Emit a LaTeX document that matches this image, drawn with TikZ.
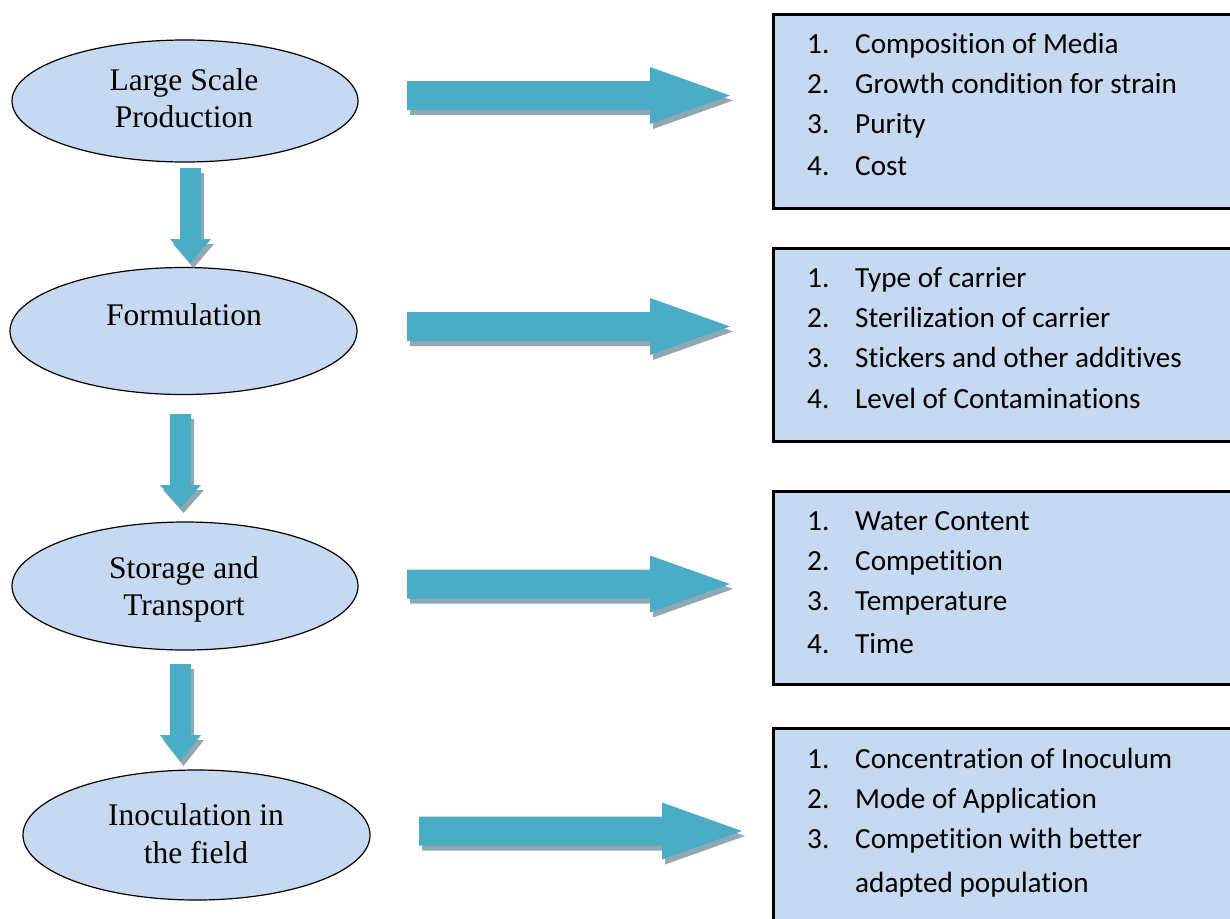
\documentclass[tikz,border=0pt]{standalone}
\usepackage{fontspec}
\setmainfont{Liberation Serif}
\newfontfamily\boxfont[Ligatures=NoCommon]{Carlito}
\usetikzlibrary{shapes.geometric}
\definecolor{fillblue}{RGB}{198,217,241}
\definecolor{arrowblue}{RGB}{75,172,198}
\definecolor{shadowgray}{RGB}{146,168,176}
\tikzset{
  stage/.style={ellipse, draw=black, line width=1.2pt, fill=fillblue, inner sep=0pt},
  stagetext/.style={font=\fontsize{31.5}{36}\selectfont, anchor=base, inner sep=0pt},
  factorbox/.style={draw=black, line width=3pt, fill=fillblue, anchor=north west, inner sep=0pt},
  itemtext/.style={font=\boxfont\fontsize{29.2}{35}\selectfont, anchor=base west, inner sep=0pt},
  blockarrow/.style={fill=arrowblue},
  blockshadow/.style={fill=shadowgray},
}
% horizontal block arrow: x start, x head, x tip, y centre
\newcommand{\harrowshape}[4]{({#1},{#4-14.5}) -- ({#2},{#4-14.5}) -- ({#2},{#4-28.5}) -- ({#3},{#4}) -- ({#2},{#4+28.5}) -- ({#2},{#4+14.5}) -- ({#1},{#4+14.5}) -- cycle}
\newcommand{\harrow}[4]{%
  \fill[blockshadow, shift={(3,5)}] \harrowshape{#1}{#2}{#3}{#4};
  \fill[blockarrow] \harrowshape{#1}{#2}{#3}{#4};}
% vertical block arrow: x centre, y start, y head, y tip
\newcommand{\varrowshape}[4]{({#1-10.5},{#2}) -- ({#1+10.5},{#2}) -- ({#1+10.5},{#3}) -- ({#1+20.5},{#3}) -- ({#1},{#4}) -- ({#1-20.5},{#3}) -- ({#1-10.5},{#3}) -- cycle}
\newcommand{\varrow}[4]{%
  \fill[blockshadow, shift={(3,5)}] \varrowshape{#1}{#2}{#3}{#4};
  \fill[blockarrow] \varrowshape{#1}{#2}{#3}{#4};}
\begin{document}
\begin{tikzpicture}[x=1pt, y=-1pt]
\useasboundingbox (0,0) rectangle (1230,918);

% stages
\node[stage, minimum width=346pt, minimum height=122pt] (e1) at (185,101) {};
\node[stagetext] (e1a) at (184,90) {Large Scale};
\node[stagetext] (e1b) at (184,127) {Production};

\node[stage, minimum width=347pt, minimum height=127pt] (e2) at (183.5,331) {};
\node[stagetext] (e2a) at (184,325) {Formulation};

\node[stage, minimum width=346pt, minimum height=128pt] (e3) at (185,586) {};
\node[stagetext] (e3a) at (184,578) {Storage and};
\node[stagetext] (e3b) at (184,615) {Transport};

\node[stage, minimum width=347pt, minimum height=130pt] (e4) at (196.5,835) {};
\node[stagetext] (e4a) at (196,825) {Inoculation in};
\node[stagetext] (e4b) at (196,863) {the field};

% vertical arrows
\varrow{190.5}{168}{239}{263}
\varrow{180.5}{414}{485}{508}
\varrow{180.5}{664}{735}{761}

% horizontal arrows
\harrow{407}{650}{730}{95.5}
\harrow{407}{650}{730}{326.5}
\harrow{407}{650}{730}{584}
\harrow{419}{662}{742}{831}

% factor boxes
\node[factorbox, minimum width=470pt, minimum height=194pt] (b1) at (772,13) {};
\node[itemtext] (b1n1) at (807,53) {1.};  \node[itemtext] (b1t1) at (855,53) {Composition of Media};
\node[itemtext] (b1n2) at (807,93) {2.};  \node[itemtext] (b1t2) at (855,93) {Growth condition for strain};
\node[itemtext] (b1n3) at (807,133) {3.}; \node[itemtext] (b1t3) at (855,133) {Purity};
\node[itemtext] (b1n4) at (807,175) {4.}; \node[itemtext] (b1t4) at (855,175) {Cost};

\node[factorbox, minimum width=470pt, minimum height=193pt] (b2) at (772,247) {};
\node[itemtext] (b2n1) at (807,287) {1.}; \node[itemtext] (b2t1) at (855,287) {Type of carrier};
\node[itemtext] (b2n2) at (807,327) {2.}; \node[itemtext] (b2t2) at (855,327) {Sterilization of carrier};
\node[itemtext] (b2n3) at (807,367) {3.}; \node[itemtext] (b2t3) at (855,367) {Stickers and other additives};
\node[itemtext] (b2n4) at (807,408) {4.}; \node[itemtext] (b2t4) at (855,408) {Level of Contaminations};

\node[factorbox, minimum width=470pt, minimum height=193pt] (b3) at (772,490) {};
\node[itemtext] (b3n1) at (807,530) {1.}; \node[itemtext] (b3t1) at (855,530) {Water Content};
\node[itemtext] (b3n2) at (807,570) {2.}; \node[itemtext] (b3t2) at (855,570) {Competition};
\node[itemtext] (b3n3) at (807,610) {3.}; \node[itemtext] (b3t3) at (855,610) {Temperature};
\node[itemtext] (b3n4) at (807,653) {4.}; \node[itemtext] (b3t4) at (855,653) {Time};

\node[factorbox, minimum width=470pt, minimum height=200pt] (b4) at (772,727) {};
\node[itemtext] (b4n1) at (807,768) {1.}; \node[itemtext] (b4t1) at (855,768) {Concentration of Inoculum};
\node[itemtext] (b4n2) at (807,808) {2.}; \node[itemtext] (b4t2) at (855,808) {Mode of Application};
\node[itemtext] (b4n3) at (807,848) {3.}; \node[itemtext] (b4t3) at (855,848) {Competition with better};
\node[itemtext] (b4t4) at (855,892) {adapted population};
\end{tikzpicture}
\end{document}
